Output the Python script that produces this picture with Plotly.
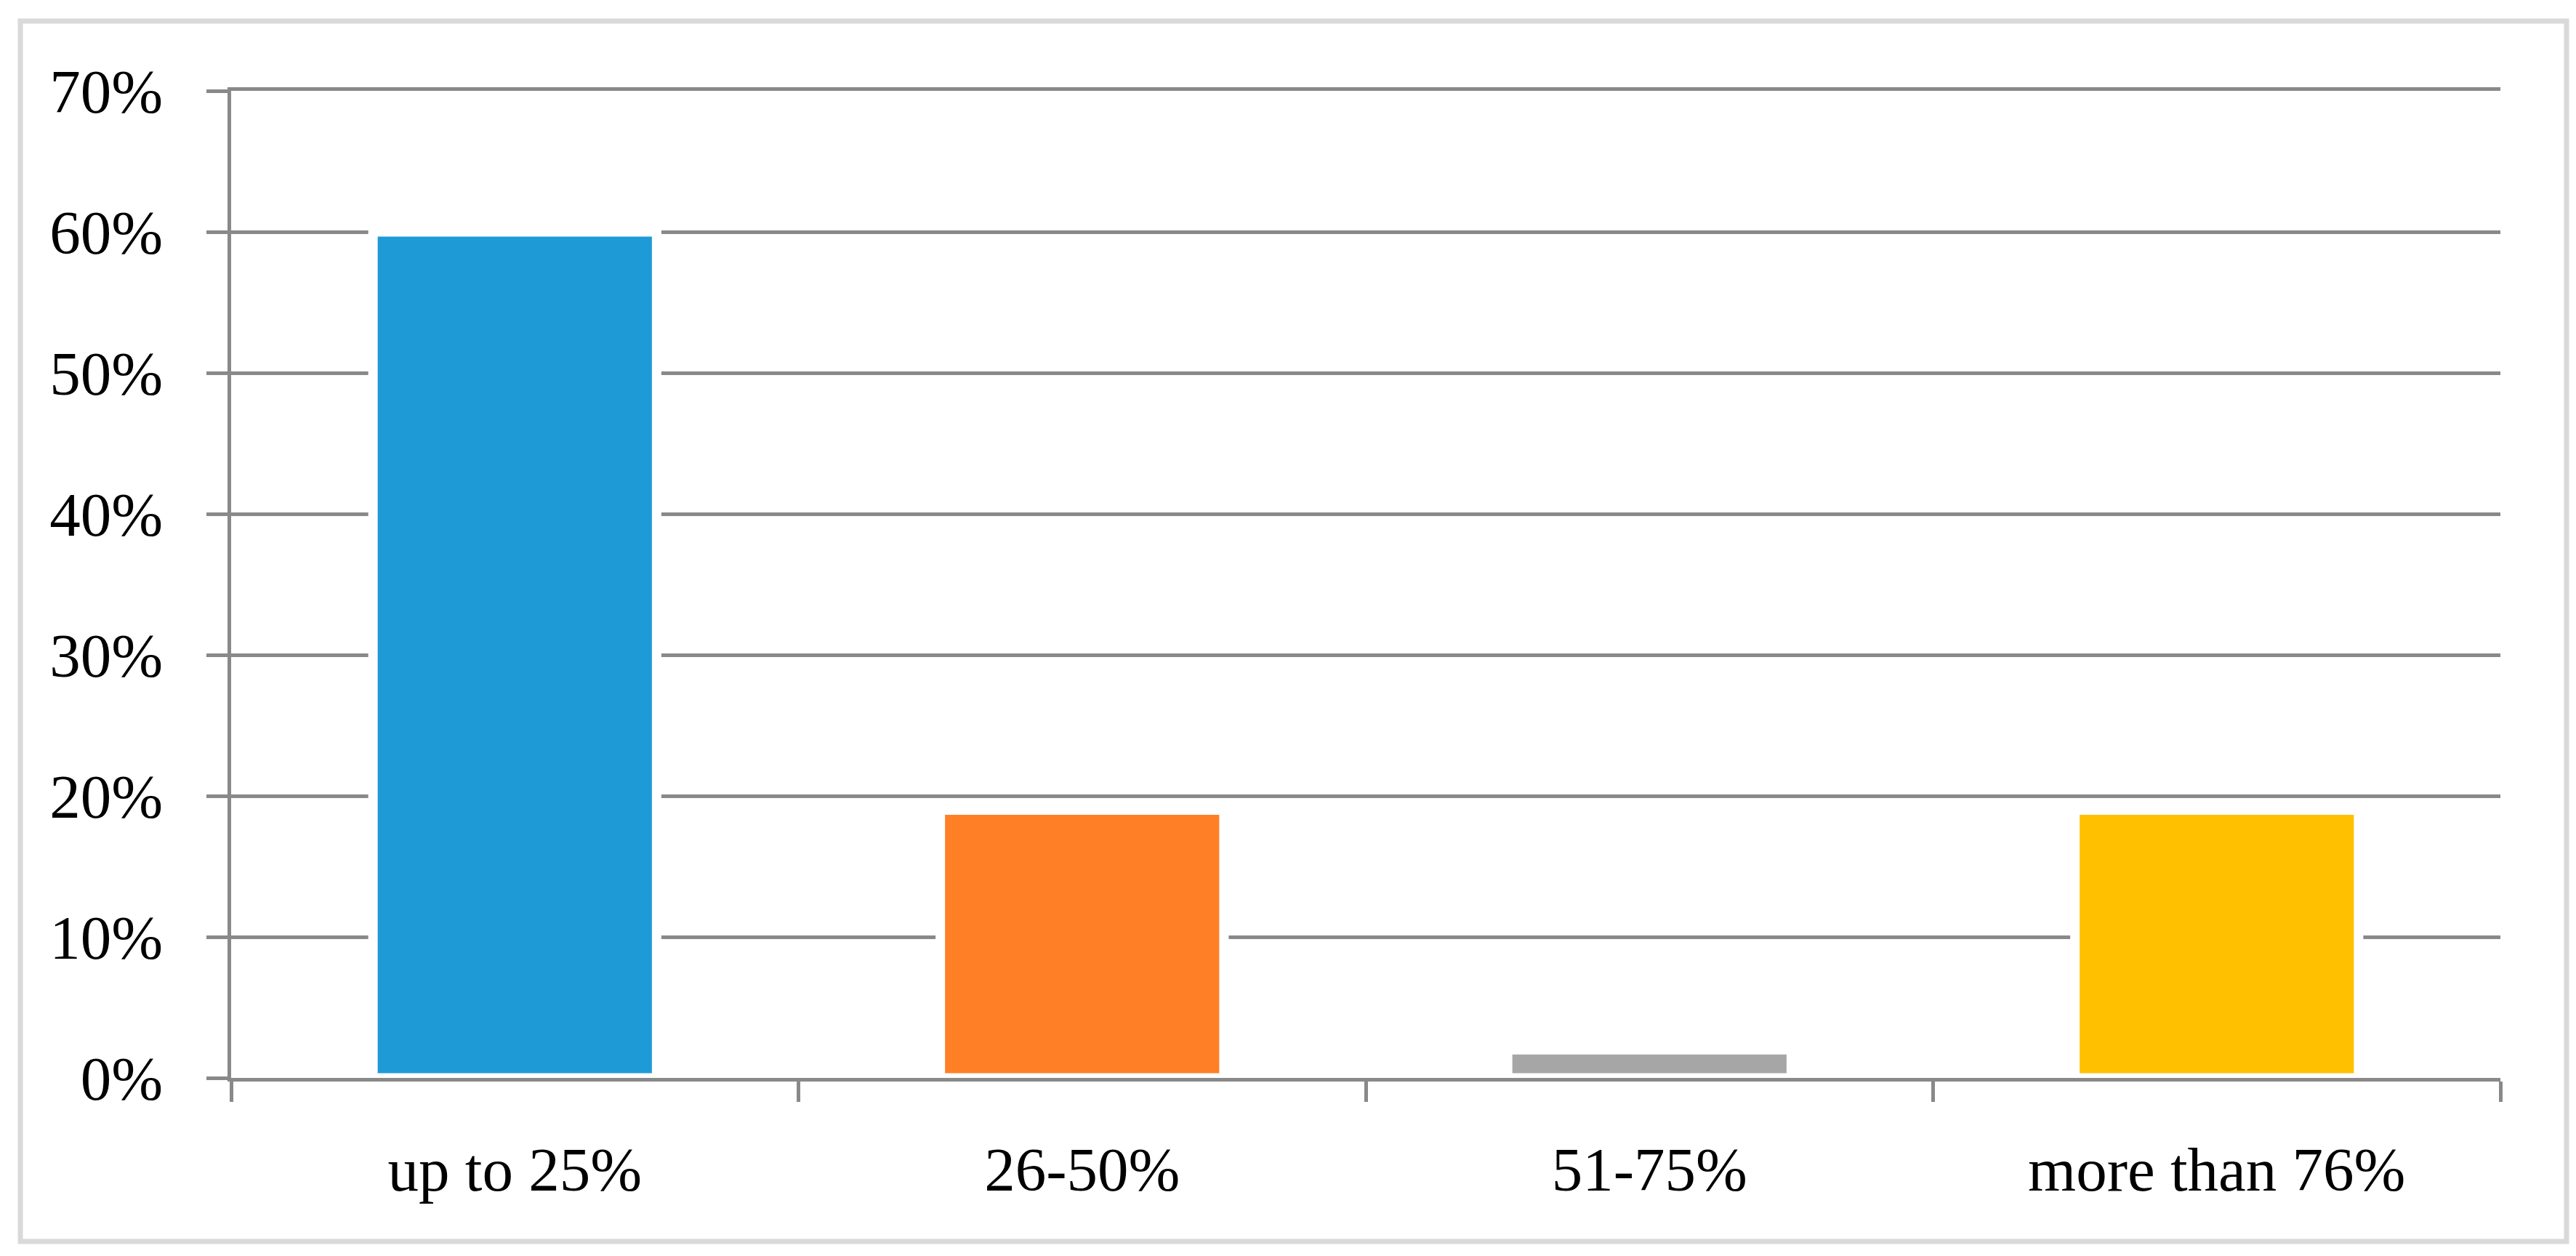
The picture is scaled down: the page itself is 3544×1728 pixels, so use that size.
import plotly.graph_objects as go

# shares (in %)
categories = ["up to 25%", "26-50%", "51-75%", "more than 76%"]
shares = [60, 19, 2, 19]
bar_colors = ["#1E9BD7", "#FF7F27", "#A6A6A6", "#FFC000"]
y_ticks = [0, 10, 20, 30, 40, 50, 60, 70]

FONT = "Palatino Linotype, Book Antiqua, Palatino, Liberation Serif, serif"
GRID = "#898989"
W, H = 3544, 1728
M = dict(l=310, r=112, t=117, b=253)

fig = go.Figure(
    go.Bar(
        x=categories,
        y=shares,
        marker=dict(color=bar_colors, line=dict(color="white", width=13)),
        width=0.5,
    )
)

fig.update_layout(
    width=W,
    height=H,
    margin=M,
    paper_bgcolor="white",
    plot_bgcolor="white",
    showlegend=False,
    font=dict(family=FONT, size=85, color="black"),
)

fig.update_yaxes(
    range=[0, 70],
    tickvals=y_ticks,
    ticktext=[f"{v}%" for v in y_ticks],
    showgrid=True,
    gridcolor=GRID,
    gridwidth=5,
    zeroline=False,
    showline=True,
    linecolor=GRID,
    linewidth=5,
    ticks="outside",
    ticklen=29,
    tickwidth=5,
    tickcolor=GRID,
    ticklabelstandoff=43,
)

# mirror=True gives the top (70%) rule that plotly leaves out at the edge
fig.update_xaxes(
    showgrid=False,
    zeroline=False,
    showline=True,
    mirror=True,
    linecolor=GRID,
    linewidth=5,
    ticks="outside",
    tickson="boundaries",
    ticklen=28,
    tickwidth=5,
    tickcolor=GRID,
    ticklabelstandoff=48,
    layer="above traces",
)

# light grey frame round the whole chart
pw = W - M["l"] - M["r"]
ph = H - M["t"] - M["b"]
fig.add_shape(
    type="rect",
    xref="paper",
    yref="paper",
    x0=(20 - M["l"]) / pw,
    x1=(W - 21 - M["l"]) / pw,
    y0=(H - M["b"] - 1700) / ph,
    y1=(H - M["b"] - 21) / ph,
    line=dict(color="#D9D9D9", width=7),
    layer="below",
)

fig.write_html("out.html")
